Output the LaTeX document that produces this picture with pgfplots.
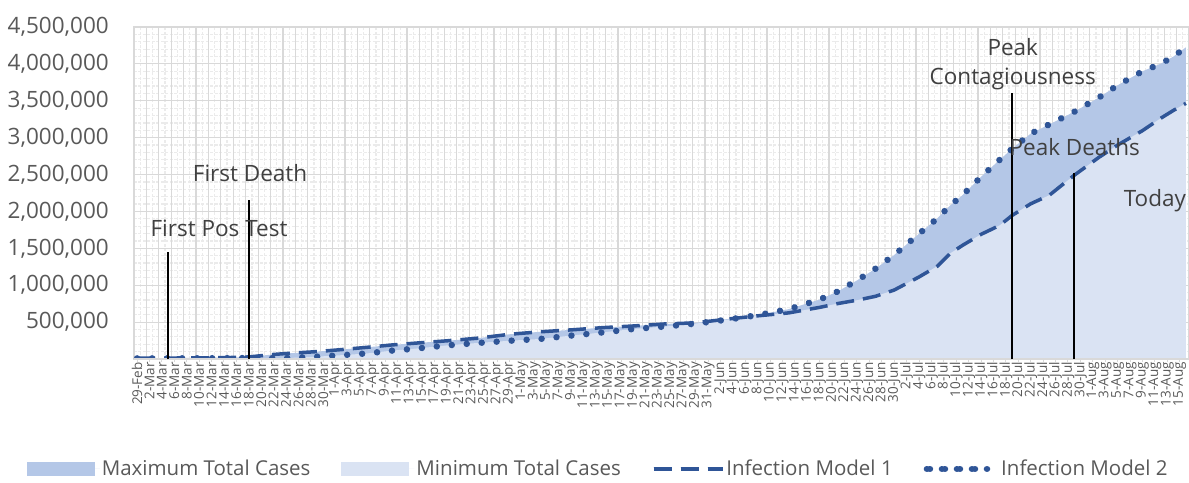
\documentclass[border=0pt]{standalone}
\usepackage{fontspec}
\setmainfont{Open Sans}
\usepackage{pgfplots}
\pgfplotsset{compat=1.18}
\usepackage{pgfplotstable}
\definecolor{lineblue}{HTML}{2F5597}
\definecolor{maxfill}{HTML}{B4C7E7}
\definecolor{minfill}{HTML}{DAE3F3}
\definecolor{gridmaj}{HTML}{D9D9D9}
\definecolor{gridmin}{HTML}{EBEBEB}
\definecolor{txt}{HTML}{595959}
\definecolor{anntxt}{HTML}{404040}
\pgfplotsset{
  dashleg/.style={legend image code/.code={\draw[##1] (0bp,0bp) -- (64bp,0bp);\path (0bp,0bp) -- (69bp,0bp);}},
  dotleg/.style={legend image code/.code={\draw[##1] (3bp,0bp) -- (63bp,0bp);\path (0bp,0bp) -- (69bp,0bp);}},
  maxleg/.style={legend image code/.code={\fill[maxfill] (0bp,-7bp) rectangle (68bp,7bp);\path (0bp,0bp) -- (73bp,0bp);}},
  minleg/.style={legend image code/.code={\fill[minfill] (0bp,-7bp) rectangle (68bp,7bp);\path (0bp,0bp) -- (73bp,0bp);}},
}

\pgfplotstableread{
day m1 m2 maxc minc
0 12000 8000 12000 8000
5 13000 9000 13000 9000
10 15000 10000 15000 10000
15 20000 12000 20000 12000
18 28000 14000 28000 14000
20 45000 12000 45000 12000
22 62000 12000 62000 12000
25 80000 16000 80000 16000
29 100000 32000 100000 32000
33 128000 52000 128000 52000
37 158000 75000 158000 75000
41 190000 113000 190000 113000
45 216000 142000 216000 142000
50 247000 185000 247000 185000
55 283000 218000 283000 218000
60 335000 247000 335000 247000
65 369000 272000 369000 272000
70 395000 318000 395000 318000
75 425000 360000 425000 360000
80 448000 407000 448000 407000
85 475000 440000 475000 440000
90 490000 480000 490000 480000
95 540000 532000 540000 532000
100 585000 594000 594000 585000
105 625000 676000 676000 625000
110 700000 806000 806000 700000
113 753000 920000 920000 753000
116 797000 1065000 1065000 797000
119 850000 1225000 1225000 850000
122 935000 1410000 1410000 935000
126 1112000 1698000 1698000 1112000
129 1260000 1910000 1910000 1260000
131 1430000 2080000 2080000 1430000
133 1540000 2220000 2220000 1540000
136 1690000 2470000 2470000 1690000
139 1811000 2700000 2700000 1811000
141 1946000 2850000 2850000 1946000
144 2104000 3055000 3055000 2104000
147 2220000 3180000 3180000 2220000
151 2490000 3350000 3350000 2490000
155 2734000 3545000 3545000 2734000
158 2900000 3710000 3710000 2900000
162 3095000 3900000 3900000 3095000
165 3266000 4004000 4004000 3266000
167 3370000 4100000 4100000 3370000
169 3465000 4225000 4225000 3465000
}\casedata

\begin{document}
\begin{tikzpicture}
\begin{axis}[
  at={(0,0)}, anchor=south west,
  scale only axis, width=1055bp, height=332bp,
  xmin=-0.5, xmax=169.5, ymin=0, ymax=4500000,
  axis line style={gridmaj, line width=1.2bp},
  xtick={0,2,...,168},
  xticklabels={29-Feb,2-Mar,4-Mar,6-Mar,8-Mar,10-Mar,12-Mar,14-Mar,16-Mar,18-Mar,20-Mar,22-Mar,24-Mar,26-Mar,28-Mar,30-Mar,
    1-Apr,3-Apr,5-Apr,7-Apr,9-Apr,11-Apr,13-Apr,15-Apr,17-Apr,19-Apr,21-Apr,23-Apr,25-Apr,27-Apr,29-Apr,
    1-May,3-May,5-May,7-May,9-May,11-May,13-May,15-May,17-May,19-May,21-May,23-May,25-May,27-May,29-May,31-May,
    2-Jun,4-Jun,6-Jun,8-Jun,10-Jun,12-Jun,14-Jun,16-Jun,18-Jun,20-Jun,22-Jun,24-Jun,26-Jun,28-Jun,30-Jun,
    2-Jul,4-Jul,6-Jul,8-Jul,10-Jul,12-Jul,14-Jul,16-Jul,18-Jul,20-Jul,22-Jul,24-Jul,26-Jul,28-Jul,30-Jul,
    1-Aug,3-Aug,5-Aug,7-Aug,9-Aug,11-Aug,13-Aug,15-Aug},
  xticklabel style={rotate=90, anchor=east, inner sep=0pt, font=\fontsize{13.5bp}{15bp}\selectfont, text=txt},
  extra x ticks={1.5,3.5,...,167.5},
  extra x tick labels={},
  extra x tick style={xmajorgrids=true, major tick length=0pt},
  minor xtick={0.5,2.5,...,168.5},
  xminorgrids=true,
  ytick={0,500000,1000000,1500000,2000000,2500000,3000000,3500000,4000000,4500000},
  yticklabels={{},{500,000},{1,000,000},{1,500,000},{2,000,000},{2,500,000},{3,000,000},{3,500,000},{4,000,000},{4,500,000}},
  yticklabel style={inner sep=0pt, xshift=-22bp, font=\fontsize{22.5bp}{26bp}\selectfont, text=txt},
  ymajorgrids, minor y tick num=4, yminorgrids,
  major grid style={gridmaj, line width=1.2bp},
  minor grid style={gridmin, line width=1.2bp, dash pattern=on 3bp off 1.5bp},
  tick align=outside,
  xtick pos=bottom, ytick pos=left,
  major tick length=3bp, minor tick length=0pt,
  x tick style={gridmaj, line width=1bp},
  y tick style={draw=none},
  scaled y ticks=false,
  legend style={font=\fontsize{20.5bp}{24bp}\selectfont, text=txt, draw=none, fill=none,
    legend columns=4,
    /tikz/every even column/.append style={column sep=29bp},
    at={(0.44,-0.331)}, anchor=center, inner sep=0pt},
]
\addplot[fill=maxfill, draw=none, maxleg]
  table[x=day, y=maxc] {\casedata} \closedcycle;
\addlegendentry{Maximum Total Cases}
\addplot[fill=minfill, draw=none, minleg]
  table[x=day, y=minc] {\casedata} \closedcycle;
\addlegendentry{Minimum Total Cases}
\addplot[lineblue, line width=3.5bp, dash pattern=on 18bp off 9bp, dashleg]
  table[x=day, y=m1] {\casedata};
\addlegendentry{Infection Model 1}
\addplot[lineblue, line width=6.5bp, line cap=round, dash pattern=on 0.01bp off 15bp, dotleg]
  table[x=day, y=m2] {\casedata};
\addlegendentry{Infection Model 2}
% baseline
\addplot[gridmaj, line width=1.5bp, forget plot] coordinates {(-0.5,0) (169.5,0)};
% annotation lines
\addplot[black, line width=1.5bp, forget plot] coordinates {(5,0) (5,1450000)};
\addplot[black, line width=1.5bp, forget plot] coordinates {(18,0) (18,2160000)};
\addplot[black, line width=1.5bp, forget plot] coordinates {(141,0) (141,3600000)};
\addplot[black, line width=1.5bp, forget plot] coordinates {(151,0) (151,2520000)};
\begin{scope}[every node/.style={font=\fontsize{22.5bp}{26bp}\selectfont, text=anntxt, inner sep=0pt}]
\node at (axis cs:13.2,1770000) {First Pos Test};
\node at (axis cs:18.2,2514000) {First Death};
\node at (axis cs:141.1,4230000) {Peak};
\node at (axis cs:141.1,3797000) {Contagiousness};
\node at (axis cs:151.1,2878000) {Peak Deaths};
\node at (axis cs:164.0,2149000) {Today};
\end{scope}
\end{axis}
\pgfresetboundingbox
\path[use as bounding box] (-134bp,-124bp) rectangle (1055bp,359bp);
\end{tikzpicture}
\end{document}
